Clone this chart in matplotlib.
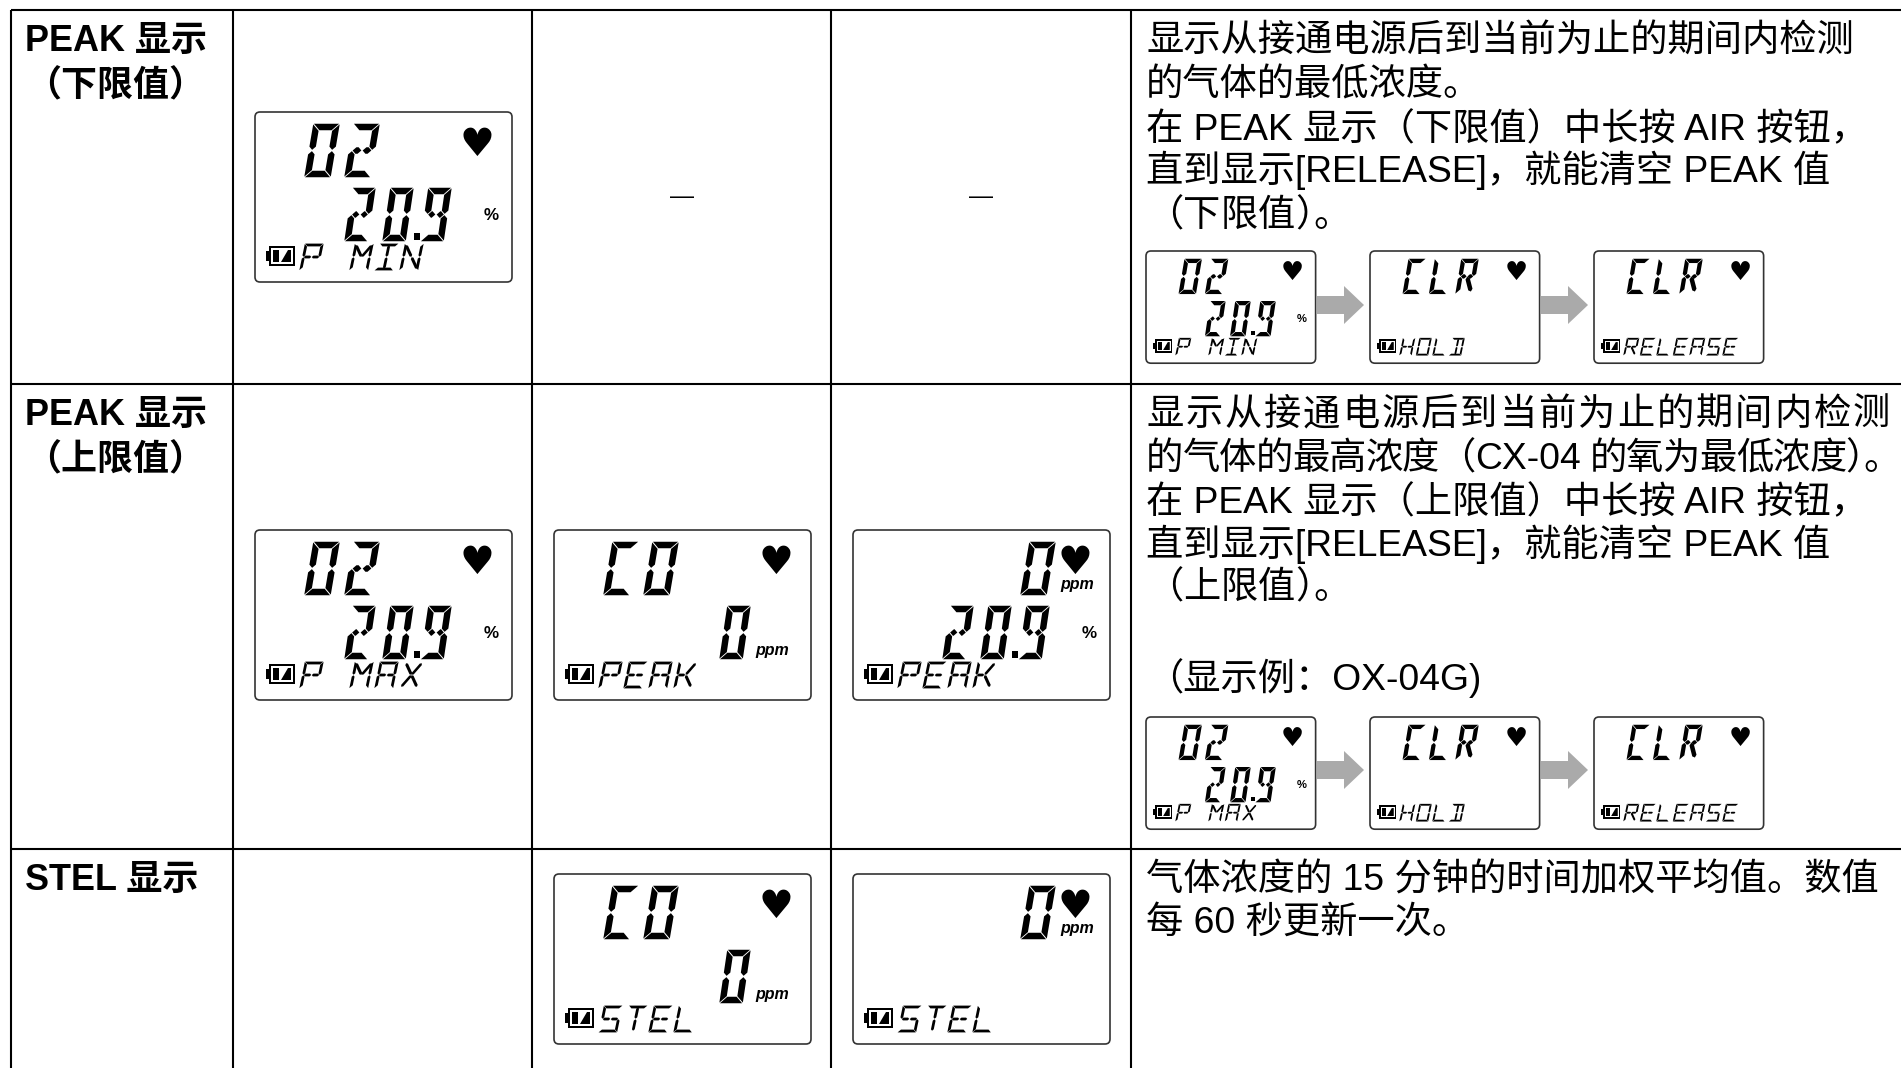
import re
import matplotlib
matplotlib.use("Agg")
import matplotlib.pyplot as plt
import numpy as np
from matplotlib.patches import FancyBboxPatch, Polygon, Rectangle

plt.rcParams['font.family'] = ['Liberation Sans', 'Noto Sans CJK SC', 'DejaVu Sans']

# table text
row_titles = [["PEAK 显示", "（下限值）"], ["PEAK 显示", "（上限值）"], ["STEL 显示"]]
row1_lines = ["显示从接通电源后到当前为止的期间内检测", "的气体的最低浓度。",
              "在 PEAK 显示（下限值）中长按 AIR 按钮，",
              "直到显示[RELEASE]，就能清空 PEAK 值", "（下限值）。"]
row2_lines = ["显示从接通电源后到当前为止的期间内检测", "的气体的最高浓度（CX-04 的氧为最低浓度）。",
              "在 PEAK 显示（上限值）中长按 AIR 按钮，",
              "直到显示[RELEASE]，就能清空 PEAK 值", "（上限值）。", "（显示例：OX-04G)"]
row3_lines = ["气体浓度的 15 分钟的时间加权平均值。数值", "每 60 秒更新一次。"]
dash = "—"

# lcd contents: top digits, bottom digits, status text, unit of bottom, unit of top
lcd_top = ["02", "02", "CO", "   0", "CO", "   0", "02", "CLR", "CLR", "02", "CLR", "CLR"]
lcd_bottom = [" 20.9", " 20.9", "   0", " 20.9", "   0", "", " 20.9", "", "", " 20.9", "", ""]
lcd_status = ["P MIN", "P MAX", "PEAK", "PEAK", "STEL", "STEL", "P MIN", "HOLD", "RELEASE",
              "P MAX", "HOLD", "RELEASE"]
lcd_unit = ["%", "%", "ppm", "%", "ppm", "", "%", "", "", "%", "", ""]
lcd_top_unit = ["", "", "", "ppm", "", "ppm", "", "", "", "", "", ""]

# layout, pixels
col_x = [11, 233, 532, 831, 1131]
row_y = [10, 384, 849]
lcd_x = [255, 255, 554, 853, 554, 853, 1146, 1370, 1594, 1146, 1370, 1594]
lcd_y = [112, 530, 530, 530, 874, 874, 251, 251, 251, 717, 717, 717]
lcd_scale = [1, 1, 1, 1, 1, 1, .66, .66, .66, .66, .66, .66]
arrow_x = [1317, 1541, 1317, 1541]
arrow_y = [305, 305, 770, 770]

row1_base = [51, 96, 140, 182, 226]
row2_base = [425, 469, 513, 556, 598, 690]
row3_base = [890, 933]
title_base = [[51, 96], [425, 470], [890]]
row2_ends = [1890, 1901, None, None, None, None]
text_x = 1146
EM = 37.3

SEGS = {'a': ((0, 1), (1, 1)), 'b': ((1, 1), (1, .5)), 'c': ((1, .5), (1, 0)), 'd': ((0, 0), (1, 0)),
        'e': ((0, 0), (0, .5)), 'f': ((0, .5), (0, 1)), 'g': ((0, .5), (.5, .5)), 'G': ((.5, .5), (1, .5)),
        'h': ((0, 1), (.5, .5)), 'i': ((.5, 1), (.5, .5)), 'j': ((1, 1), (.5, .5)),
        'k': ((0, 0), (.5, .5)), 'l': ((.5, 0), (.5, .5)), 'm': ((1, 0), (.5, .5))}
GLYPHS = {'0': 'abcdef', 'O': 'abcdef', '2': 'abgGde', '9': 'abcdfgG', 'C': 'adef', 'L': 'def',
          'R': 'abefgGm', 'P': 'abefgG', 'M': 'bcefhj', 'I': 'adil', 'N': 'bcefhm', 'A': 'abcefgG',
          'X': 'hjkm', 'H': 'bcefgG', 'D': 'abcdil', 'E': 'adefgG', 'K': 'efgjm', 'S': 'afgGcd', 'T': 'ail'}

fig = plt.figure(figsize=(19.01, 10.68), dpi=100)
ax = fig.add_axes([0, 0, 1, 1])
ax.set_xlim(0, 1901)
ax.set_ylim(1068, 0)
ax.axis('off')


def px(size):
    return size * 0.72


def seg_end(e, d, out, s, gap, corner):
    # corner ends get a mitre, the others a point
    if corner:
        return [e + d * (gap - s) + out * s, e + d * (gap + s) - out * s]
    return [e + d * (gap + s) + out * s, e + d * gap, e + d * (gap + s) - out * s]


def seg_poly(p, q, t, centre, perimeter):
    p, q = np.array(p, float), np.array(q, float)
    d = (q - p) / np.hypot(*(q - p))
    out = np.array([-d[1], d[0]])
    if np.dot(out, (p + q) / 2 - centre) < 0:
        out = -out
    s = t / 2
    gap = t * .1

    def is_corner(e):
        return perimeter and abs(e[0] - centre[0]) > 1e-6 and abs(e[1] - centre[1]) > 1e-6

    return seg_end(p, d, out, s, gap, is_corner(p)) + seg_end(q, -d, out, s, gap, is_corner(q))[::-1]


def glyph(ch, x, y, w, h, t, skew):
    # x,y top left of the cell in pixels
    centre = np.array([w / 2, h / 2])
    for name in GLYPHS.get(ch, ''):
        p, q = SEGS[name]
        pts = seg_poly((p[0] * w, (1 - p[1]) * h), (q[0] * w, (1 - q[1]) * h), t, centre, name in 'abcdef')
        pts = [(x + u + skew * (1 - v / h), y + v) for u, v in pts]
        ax.add_patch(Polygon(pts, closed=True, fc='black', ec='none', zorder=3))


def battery(x, y, s):
    ax.add_patch(Rectangle((x + 3 * s, y), 26 * s, 20 * s, fc='black', ec='none', zorder=3))
    ax.add_patch(Rectangle((x, y + 5 * s), 3 * s, 10 * s, fc='black', ec='none', zorder=3))
    ax.add_patch(Rectangle((x + 5 * s, y + 2 * s), 22 * s, 16 * s, fc='white', ec='none', zorder=3))
    ax.add_patch(Rectangle((x + 7 * s, y + 4 * s), 6 * s, 12 * s, fc='black', ec='none', zorder=3))
    ax.add_patch(Polygon([(x + 15 * s, y + 16 * s), (x + 22 * s, y + 4 * s), (x + 25 * s, y + 4 * s),
                          (x + 25 * s, y + 16 * s)], closed=True, fc='black', ec='none', zorder=3))


def draw_lcd(i):
    x, y, s = lcd_x[i], lcd_y[i], lcd_scale[i]
    ax.add_patch(FancyBboxPatch((x + 4, y + 4), 257 * s - 8, 170 * s - 8, boxstyle="round,pad=4,rounding_size=5",
                                fc='white', ec='#333333', lw=1.2, zorder=2))
    h, t, sk = 47 * s, 6.5 * s, 8 * s
    for j, ch in enumerate(lcd_top[i]):
        glyph(ch, x + (53 + 40 * j - (2 if j == 3 else 0)) * s, y + 15 * s, 20 * s, h, t, sk)
    j = 0
    for ch in lcd_bottom[i]:
        if ch == '.':
            cx = x + (51 + 38 * j - 6) * s
            ax.add_patch(Rectangle((cx, y + 121 * s), 6 * s, 7 * s, fc='black', ec='none', zorder=3))
            continue
        glyph(ch, x + (55 + 38 * j) * s, y + 79 * s, 17 * s, h, t, 7 * s)
        j += 1
    ax.text(x + 222 * s, y + 33 * s, "♥", family='DejaVu Sans', fontsize=px(39 * s), ha='center', va='center', zorder=3)
    battery(x + 11 * s, y + 134 * s, s)
    for j, ch in enumerate(lcd_status[i]):
        glyph(ch, x + (46 + 25 * j) * s, y + 133 * s, 16 * s, 24 * s, 2.8 * s, 5 * s)
    unit = lcd_unit[i]
    if unit == '%':
        ax.text(x + 236 * s, y + 103 * s, unit, fontweight='bold', fontsize=px(17 * s),
                ha='center', va='center', zorder=3)
    elif unit:
        ax.text(x + 218 * s, y + 120 * s, unit, fontweight='bold', style='italic',
                fontsize=px(16 * s), ha='center', va='center', zorder=3)
    if lcd_top_unit[i]:
        ax.text(x + 224 * s, y + 55 * s, lcd_top_unit[i], fontweight='bold', style='italic',
                fontsize=px(16 * s), ha='center', va='center', zorder=3)


def draw_line(x, y, s, end=None, weight='normal', em=EM):
    if end is None and "）。" not in s:
        ax.text(x, y, s, fontsize=px(em), va='baseline', ha='left', fontweight=weight, color='black')
        return
    # placed token by token, spare width spread between them
    tokens = re.findall(r'[!-~]+| |.', s)
    r = fig.canvas.get_renderer()
    widths = []
    for k, tok in enumerate(tokens):
        if tok == ' ':
            widths.append(em * .278)
        elif ord(tok[0]) < 128:
            t = ax.text(0, 0, tok, fontsize=px(em))
            widths.append(t.get_window_extent(r).width)
            t.remove()
        elif tok == '）' and tokens[k + 1:k + 2] == ['。']:
            widths.append(em * .5)
        else:
            widths.append(em)
    extra = 0 if end is None else (end - x - sum(widths)) / (len(tokens) - 1)
    for tok, wd in zip(tokens, widths):
        if tok != ' ':
            ax.text(x, y, tok, fontsize=px(em), va='baseline', ha='left', color='black')
        x += wd + extra


# grid
for cx in col_x:
    ax.plot([cx, cx], [row_y[0], 1068], color='black', lw=1.5, solid_capstyle='butt')
for cy in row_y:
    ax.plot([col_x[0], 1901], [cy, cy], color='black', lw=1.5, solid_capstyle='butt')

# first column
for lines, bases in zip(row_titles, title_base):
    for line, b in zip(lines, bases):
        draw_line(25, b, line, weight='bold', em=36)

# right column
for line, b in zip(row1_lines, row1_base):
    draw_line(text_x, b, line)
for line, b, e in zip(row2_lines, row2_base, row2_ends):
    draw_line(text_x, b, line, end=e)
for line, b in zip(row3_lines, row3_base):
    draw_line(text_x, b, line)

for cx in [682, 981]:
    ax.text(cx, 203, dash, fontsize=px(24), ha='center', va='baseline', color='black')

for i in range(len(lcd_x)):
    draw_lcd(i)

for ax_x, ax_y in zip(arrow_x, arrow_y):
    ax.add_patch(Polygon([(ax_x, ax_y - 9), (ax_x + 27, ax_y - 9), (ax_x + 27, ax_y - 19), (ax_x + 47, ax_y),
                          (ax_x + 27, ax_y + 19), (ax_x + 27, ax_y + 9), (ax_x, ax_y + 9)],
                         closed=True, fc='#aaaaaa', ec='none', zorder=3))

fig.savefig("out.png", dpi=100)
